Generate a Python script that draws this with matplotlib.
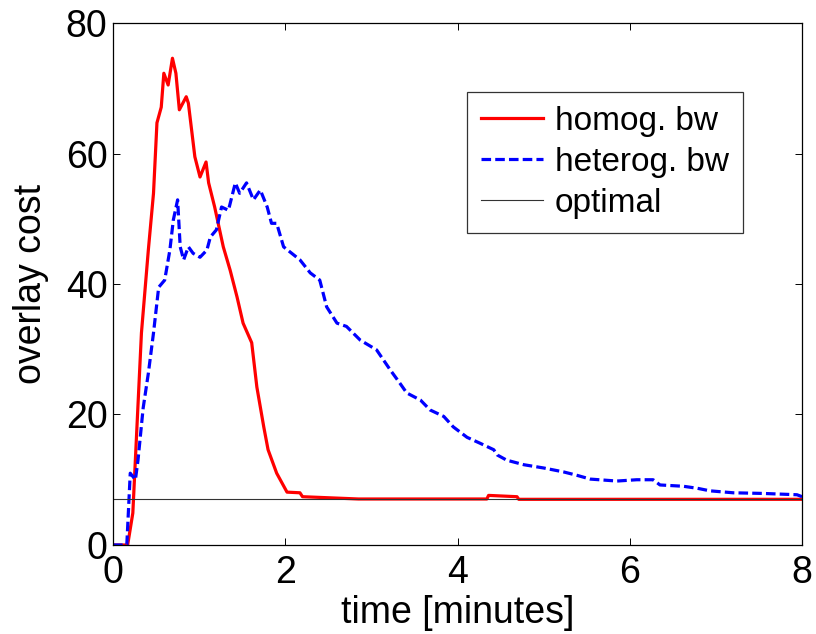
import numpy as np
import matplotlib
matplotlib.use('Agg')
import matplotlib.pyplot as plt

# homogeneous bandwidth (red, solid)
t_homog = [0.0, 0.17, 0.23, 0.33, 0.41, 0.47, 0.51, 0.56, 0.59, 0.64, 0.69, 0.73,
           0.77, 0.85, 0.875, 0.95, 1.01, 1.08, 1.11, 1.18, 1.28, 1.36, 1.44, 1.51,
           1.61, 1.67, 1.75, 1.80, 1.90, 2.02, 2.17, 2.20, 2.85, 4.34, 4.36, 4.69,
           4.71, 8.0]
y_homog = [0.0, 0.0, 4.9, 32.5, 45.2, 53.9, 64.7, 67.1, 72.3, 70.5, 74.6, 72.3,
           66.7, 68.7, 67.7, 59.5, 56.4, 58.7, 55.5, 51.8, 45.7, 42.1, 38.0, 34.0,
           31.0, 24.2, 18.1, 14.6, 11.0, 8.1, 8.0, 7.4, 7.05, 7.05, 7.6, 7.4,
           7.0, 7.0]

# heterogeneous bandwidth (blue, dashed)
t_heterog = [0.0, 0.16, 0.20, 0.26, 0.29, 0.35, 0.41, 0.47, 0.53, 0.60, 0.66, 0.70,
             0.75, 0.78, 0.82, 0.875, 0.93, 1.01, 1.09, 1.13, 1.20, 1.26, 1.34, 1.42,
             1.47, 1.55, 1.63, 1.71, 1.79, 1.84, 1.90, 1.98, 2.17, 2.29, 2.40, 2.48,
             2.60, 2.71, 2.87, 3.06, 3.22, 3.33, 3.41, 3.57, 3.68, 3.84, 3.95, 4.11,
             4.26, 4.42, 4.46, 4.57, 4.77, 5.00, 5.23, 5.38, 5.54, 5.85, 6.08, 6.27,
             6.35, 6.62, 6.78, 6.93, 7.20, 7.55, 7.94, 8.0]
y_heterog = [0.0, 0.0, 11.0, 10.0, 13.0, 21.0, 26.3, 32.5, 39.5, 40.6, 45.2, 49.8,
             52.9, 45.7, 43.7, 45.7, 44.7, 44.1, 45.2, 47.2, 48.3, 51.8, 51.3, 55.5,
             53.9, 55.5, 52.9, 54.4, 51.8, 49.3, 49.3, 45.7, 43.7, 41.7, 40.6, 36.5,
             34.0, 33.5, 31.4, 29.9, 26.8, 24.8, 23.3, 22.2, 20.7, 19.7, 18.1, 16.5,
             15.6, 14.6, 13.8, 13.0, 12.3, 11.8, 11.2, 10.7, 10.1, 9.8, 10.0, 10.0,
             9.2, 9.0, 8.7, 8.3, 8.0, 7.9, 7.7, 7.4]

optimal = 7.0

x_ticks = [0, 2, 4, 6, 8]
y_ticks = [0, 20, 40, 60, 80]

plt.rcParams['font.family'] = ['Liberation Sans', 'DejaVu Sans']

fig = plt.figure(figsize=(8.16, 6.34), dpi=100)
ax = fig.add_axes([0.1385, 0.1404, 0.8445, 0.8233])

ax.plot(t_homog, y_homog, color='#ff0000', lw=2.3, label='homog. bw')
ax.plot(t_heterog, y_heterog, color='#0000ff', lw=2.3, ls=(0, (3.0, 1.3)),
        label='heterog. bw')
ax.axhline(optimal, color='#333333', lw=0.8, label='optimal')

ax.set_xlim(0, 8)
ax.set_ylim(0, 80)
ax.set_xticks(x_ticks)
ax.set_yticks(y_ticks)
ax.tick_params(direction='in', length=5, width=0.7, top=True, right=True,
               labelsize=27)
ax.tick_params(axis='x', pad=7)
ax.tick_params(axis='y', pad=4)
for s in ax.spines.values():
    s.set_linewidth(0.9)

ax.set_xlabel('time [minutes]', fontsize=27, labelpad=3)
ax.set_ylabel('overlay cost', fontsize=27, labelpad=12)

leg = ax.legend(loc='upper right', bbox_to_anchor=(0.914, 0.868), fontsize=24,
                frameon=True, fancybox=False, edgecolor='black',
                handlelength=1.86, handletextpad=0.35, borderpad=0.42,
                labelspacing=0.3, borderaxespad=0)
leg.get_frame().set_linewidth(0.9)

fig.savefig('out.png', dpi=100)
